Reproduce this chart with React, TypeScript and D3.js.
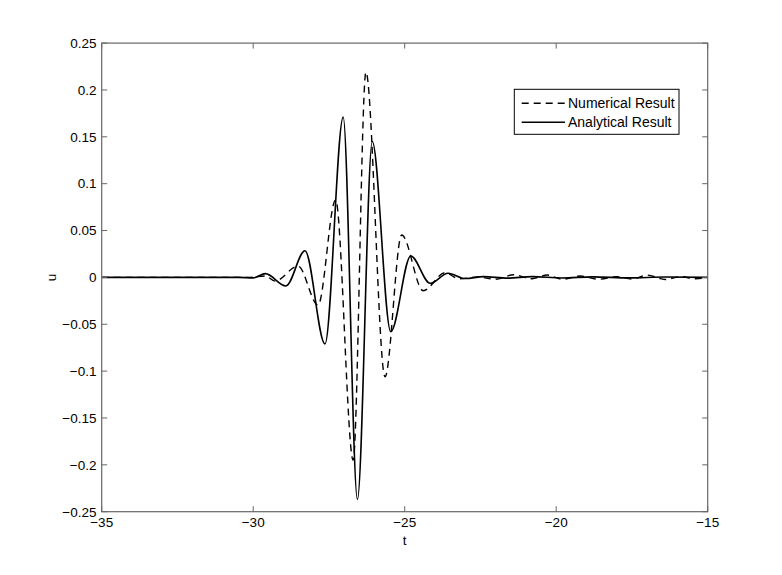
import React from "react";
import * as d3 from "d3";

// Data (t, u): extrema of each series
const analyticalT = [-35, -30.5, -30.0, -29.6, -28.92, -28.29, -27.63, -27.03, -26.56, -26.07, -25.46, -24.80, -24.16, -23.57, -23.0, -22.4, -21.6, -20.8, -19.8, -18.8, -17.6, -16.4, -15];
const analyticalU = [0, 0, -0.0005, 0.004, -0.0092, 0.0285, -0.071, 0.171, -0.237, 0.145, -0.058, 0.0229, -0.0063, 0.0044, -0.0012, 0.0008, -0.0008, 0.0008, -0.0006, 0.0006, -0.0005, 0.0004, 0];

const numericalT = [-35, -30.2, -29.6, -29.28, -28.52, -27.86, -27.28, -26.70, -26.28, -25.65, -25.10, -24.39, -23.67, -23.2, -22.6, -22.0, -21.4, -20.8, -20.3, -19.8, -19.2, -18.6, -18.0, -17.5, -17.0, -16.4, -15.9, -15.4, -15];
const numericalU = [0, 0, 0.0015, -0.004, 0.012, -0.0295, 0.0827, -0.195, 0.219, -0.106, 0.0453, -0.0142, 0.005, -0.0015, 0.0005, -0.002, 0.0028, -0.0015, 0.0025, -0.002, 0.0015, -0.002, 0.0008, -0.0018, 0.0025, -0.0022, 0.0008, -0.0015, 0];

const xTicks = [-35, -30, -25, -20, -15];
const yTicks = [-0.25, -0.2, -0.15, -0.1, -0.05, 0, 0.05, 0.1, 0.15, 0.2, 0.25];
const seriesNames = ["Numerical Result", "Analytical Result"];

const W = 782, H = 575;
const L = 101.7, R = 707.7, T = 43.1, B = 511.7;
const FONT = "'Liberation Sans', Arial, Helvetica, sans-serif";

const fmt = (v: number) => {
  const s = String(+v.toFixed(2));
  return s.replace("-", "\u2212");
};

export default function App() {
  const x = d3.scaleLinear().domain([-35, -15]).range([L, R]);
  const y = d3.scaleLinear().domain([-0.25, 0.25]).range([B, T]);
  const line = d3
    .line<[number, number]>()
    .x((d) => x(d[0]))
    .y((d) => y(d[1]))
    .curve(d3.curveMonotoneX);
  const aPts = analyticalT.map((t, i) => [t, analyticalU[i]] as [number, number]);
  const nPts = numericalT.map((t, i) => [t, numericalU[i]] as [number, number]);
  const axisColor = "#666";
  const tl = 5.5;

  return (
    <svg width={W} height={H} style={{ position: "absolute", left: 0, top: 0, background: "#fff" }}>
      <rect x={0} y={0} width={W} height={H} fill="#fff" />
      <defs>
        <clipPath id="plotclip">
          <rect x={L} y={T} width={R - L} height={B - T} />
        </clipPath>
      </defs>
      <g clipPath="url(#plotclip)">
        <path d={line(nPts) || ""} fill="none" stroke="#000" strokeWidth={1.4} strokeDasharray="7,5" />
        <path d={line(aPts) || ""} fill="none" stroke="#000" strokeWidth={1.6} />
      </g>
      {/* axes box */}
      <rect x={L} y={T} width={R - L} height={B - T} fill="none" stroke={axisColor} strokeWidth={1.2} />
      {xTicks.map((t) => (
        <g key={"x" + t}>
          <line x1={x(t)} x2={x(t)} y1={B} y2={B - tl} stroke={axisColor} strokeWidth={1} />
          <line x1={x(t)} x2={x(t)} y1={T} y2={T + tl} stroke={axisColor} strokeWidth={1} />
          <text x={x(t)} y={527} textAnchor="middle" fontFamily={FONT} fontSize={13.5} fill="#000">
            {fmt(t)}
          </text>
        </g>
      ))}
      {yTicks.map((v) => (
        <g key={"y" + v}>
          <line x1={L} x2={L + tl} y1={y(v)} y2={y(v)} stroke={axisColor} strokeWidth={1} />
          <line x1={R} x2={R - tl} y1={y(v)} y2={y(v)} stroke={axisColor} strokeWidth={1} />
          <text x={96.5} y={y(v) + 4.8} textAnchor="end" fontFamily={FONT} fontSize={13.5} fill="#000">
            {fmt(v)}
          </text>
        </g>
      ))}
      <text x={(L + R) / 2} y={545} textAnchor="middle" fontFamily={FONT} fontSize={13.5} fill="#000">
        t
      </text>
      <text
        transform={`translate(${56},${(T + B) / 2}) rotate(-90)`}
        textAnchor="middle"
        fontFamily={FONT}
        fontSize={13.5}
        fill="#000"
      >
        u
      </text>
      {/* legend */}
      <rect x={514.3} y={89.3} width={164.7} height={45} fill="#fff" stroke="#000" strokeWidth={1} />
      {seriesNames.map((name, i) => {
        const yy = 103.3 + i * 19;
        return (
          <g key={name}>
            <line
              x1={521.7}
              x2={565}
              y1={yy}
              y2={yy}
              stroke="#000"
              strokeWidth={1.4}
              strokeDasharray={i === 0 ? "7,5" : undefined}
            />
            <text x={568} y={yy + 5} fontFamily={FONT} fontSize={14} fill="#000">
              {name}
            </text>
          </g>
        );
      })}
    </svg>
  );
}
